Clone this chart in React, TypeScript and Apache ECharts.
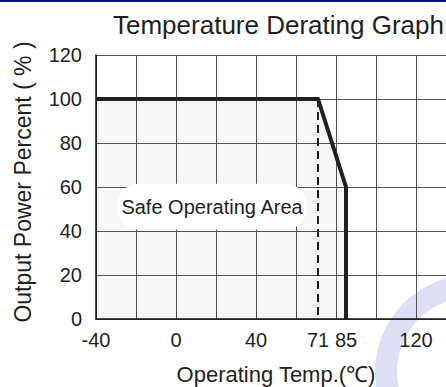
import React, { useEffect, useRef } from "react";
import * as echarts from "echarts";

const titleText = "Temperature Derating Graph";
const xName = "Operating Temp.(℃)";
const yName = "Output Power Percent ( % )";
const xLabelValues = [-40, 0, 40, 71, 85, 120];
const deratingCurve: [number, number][] = [
  [-40, 100],
  [71, 100],
  [85, 60],
  [85, 0],
];
const dashedMarker: [number, number][] = [
  [71, 100],
  [71, 0],
];
const areaLabel = "Safe Operating Area";
const areaLabelCoord: [number, number] = [18, 51];

const FONT = "'Liberation Sans', Arial, Helvetica, sans-serif";

export default function App() {
  const ref = useRef<HTMLDivElement>(null);
  useEffect(() => {
    document.body.style.margin = "0";
    if (!ref.current) return;
    const chart = echarts.init(ref.current, undefined, { renderer: "svg" });
    chart.setOption({
      animation: false,
      backgroundColor: "#ffffff",
      textStyle: { fontFamily: FONT },
      title: {
        text: titleText,
        left: 108,
        top: 7,
        textStyle: { fontSize: 26, fontWeight: "normal", color: "#231f20", fontFamily: FONT },
      },
      graphic: [
        {
          type: "rect",
          z: 100,
          shape: { x: 0, y: 0, width: 446, height: 2 },
          style: { fill: "#10107a" },
        },
        {
          type: "arc",
          z: -10,
          silent: true,
          shape: { cx: 472, cy: 372, r: 86, startAngle: Math.PI * 0.5, endAngle: Math.PI * 1.6, clockwise: true },
          style: { stroke: "rgba(170,170,225,0.4)", lineWidth: 22, fill: "none" },
        },
      ],
      grid: { left: 96, right: -10, top: 55, bottom: 68, containLabel: false, outerBoundsMode: "none" },
      xAxis: {
        type: "value",
        min: -40,
        max: 140,
        interval: 20,
        name: xName,
        nameLocation: "middle",
        nameGap: 44,
        nameTextStyle: { fontSize: 22, color: "#231f20", fontFamily: FONT },
        axisLine: { show: true, onZero: false, lineStyle: { color: "#111", width: 1.5 } },
        axisTick: { show: false },
        splitLine: { show: true, lineStyle: { color: "#555", width: 1 } },
        axisLabel: {
          customValues: xLabelValues,
          showMinLabel: true,
          fontSize: 20,
          color: "#231f20",
          margin: 11,
          fontFamily: FONT,
        },
      },
      yAxis: {
        type: "value",
        min: 0,
        max: 120,
        interval: 20,
        name: yName,
        nameLocation: "middle",
        nameGap: 62,
        nameRotate: 90,
        nameTextStyle: { fontSize: 23, color: "#231f20", fontFamily: FONT, padding: [0, 0, 0, 10] },
        axisLine: { show: true, onZero: false, lineStyle: { color: "#111", width: 1.5 } },
        axisTick: { show: false },
        splitLine: { show: true, lineStyle: { color: "#555", width: 1 } },
        axisLabel: { fontSize: 20, color: "#231f20", margin: 14, fontFamily: FONT },
      },
      series: [
        {
          type: "line",
          data: deratingCurve,
          symbol: "none",
          z: 3,
          lineStyle: { color: "#231f20", width: 4, join: "miter" },
          areaStyle: { color: "rgba(0,0,0,0.05)" },
          markPoint: {
            symbol: "circle",
            symbolSize: 0,
            silent: true,
            label: {
              show: true,
              position: "inside",
              formatter: areaLabel,
              backgroundColor: "#ffffff",
              borderRadius: 22,
              padding: [13, 4],
              fontSize: 20,
              color: "#231f20",
              fontFamily: FONT,
            },
            data: [{ coord: areaLabelCoord }],
          },
        },
        {
          type: "line",
          data: dashedMarker,
          symbol: "none",
          z: 2,
          lineStyle: { color: "#231f20", width: 2, type: [8, 5] },
        },
      ],
    });
    return () => chart.dispose();
  }, []);
  return <div ref={ref} style={{ width: 446, height: 387 }} />;
}
